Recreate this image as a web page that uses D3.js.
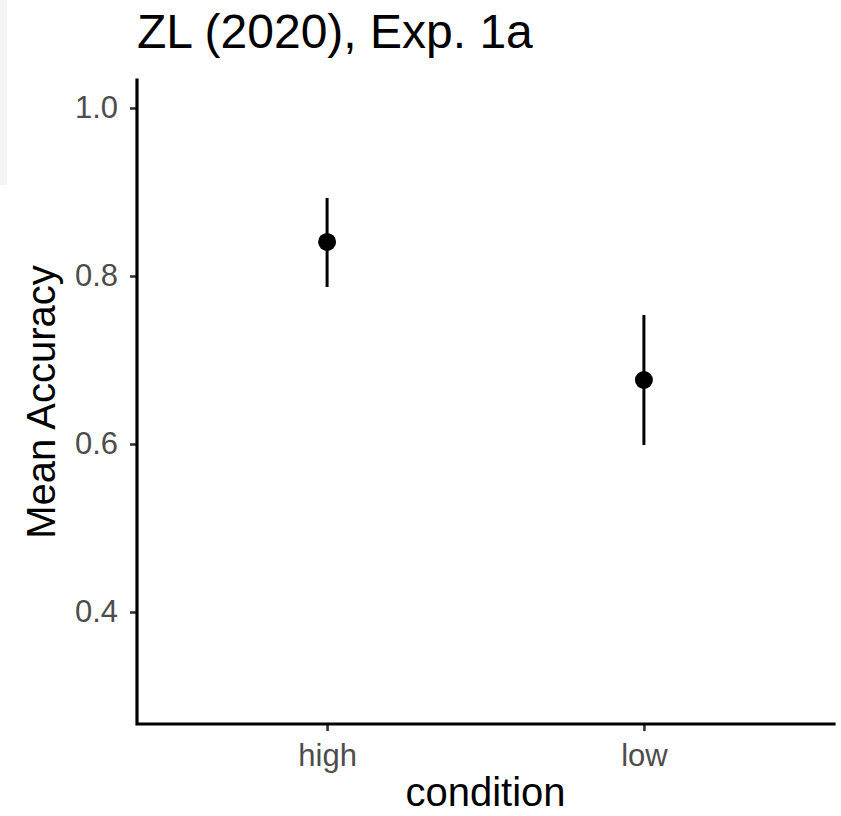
<!DOCTYPE html>
<html>
<head>
<meta charset="utf-8">
<script src="https://cdn.jsdelivr.net/npm/d3@7"></script>
<style>
  body { margin: 0; background: #fff; }
  text { font-family: "Liberation Sans", Arial, sans-serif; }
</style>
</head>
<body>
<svg id="chart" width="841" height="816"></svg>
<script>
// data
var conditions = ["high", "low"];
var means = [0.8405, 0.6762];
var upper = [0.8929, 0.7536];
var lower = [0.7869, 0.5988];
var yTicks = [0.4, 0.6, 0.8, 1.0];

var svg = d3.select("#chart");
var plotLeft = 137, plotRight = 834, plotTop = 80, plotBottom = 724;

// faint panel at the left edge
svg.append("rect")
    .attr("x", 0).attr("y", 0)
    .attr("width", 7).attr("height", 185)
    .style("fill", "#f4f4f4");

var y = d3.scaleLinear().domain([0.2667, 1.0333]).range([plotBottom, plotTop]);
var x = d3.scalePoint().domain(conditions).range([plotLeft, plotRight]).padding(0.6);

var yAxis = svg.append("g")
    .attr("transform", "translate(" + plotLeft + ",0)")
    .call(d3.axisLeft(y).tickValues(yTicks).tickSize(7).tickPadding(12)
        .tickFormat(d3.format(".1f")));
var xAxis = svg.append("g")
    .attr("transform", "translate(0," + plotBottom + ")")
    .call(d3.axisBottom(x).tickSize(7).tickPadding(13));

[yAxis, xAxis].forEach(function (g) {
    g.select(".domain").remove();
    g.selectAll(".tick line").style("stroke", "#333").attr("stroke-width", 2.6);
    g.selectAll(".tick text")
        .style("fill", "#4d4d4d")
        .attr("font-size", 31)
        .attr("font-family", "Liberation Sans, Arial, sans-serif");
});

// axis lines
svg.append("path")
    .attr("d", "M" + plotLeft + "," + plotTop + "V" + plotBottom + "H" + plotRight)
    .style("fill", "none")
    .style("stroke", "black")
    .attr("stroke-width", 3.2)
    .attr("stroke-linecap", "square");

var data = conditions.map(function (c, i) {
    return { cond: c, mean: means[i], hi: upper[i], lo: lower[i] };
});

svg.selectAll(".errbar")
    .data(data)
    .enter()
    .append("line")
    .attr("class", "errbar")
    .attr("x1", function (d) { return x(d.cond); })
    .attr("x2", function (d) { return x(d.cond); })
    .attr("y1", function (d) { return y(d.hi); })
    .attr("y2", function (d) { return y(d.lo); })
    .style("stroke", "black")
    .attr("stroke-width", 3);

svg.selectAll(".pt")
    .data(data)
    .enter()
    .append("circle")
    .attr("class", "pt")
    .attr("cx", function (d) { return x(d.cond); })
    .attr("cy", function (d) { return y(d.mean); })
    .attr("r", 9)
    .style("fill", "black");

svg.append("text")
    .attr("x", 137).attr("y", 48)
    .attr("font-size", 48)
    .style("fill", "black")
    .text("ZL (2020), Exp. 1a");

svg.append("text")
    .attr("x", (plotLeft + plotRight) / 2).attr("y", 806)
    .attr("text-anchor", "middle")
    .attr("font-size", 40)
    .style("fill", "black")
    .text("condition");

svg.append("text")
    .attr("transform", "translate(55," + (plotTop + plotBottom) / 2 + ") rotate(-90)")
    .attr("text-anchor", "middle")
    .attr("font-size", 40)
    .style("fill", "black")
    .text("Mean Accuracy");
</script>
</body>
</html>
